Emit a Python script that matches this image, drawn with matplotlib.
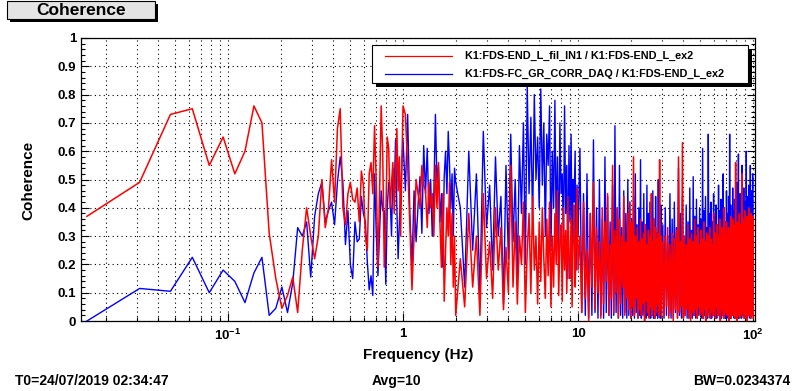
import numpy as np
import matplotlib.pyplot as plt
from matplotlib.patches import Rectangle
from matplotlib.lines import Line2D
from matplotlib.ticker import FixedLocator, LogLocator, MultipleLocator, NullFormatter

plt.rcParams['font.family'] = ['Liberation Sans', 'DejaVu Sans']
plt.rcParams['font.weight'] = 'bold'
plt.rcParams['mathtext.fontset'] = 'custom'
plt.rcParams['mathtext.rm'] = 'Liberation Sans:bold'
plt.rcParams['mathtext.it'] = 'Liberation Sans:bold'
plt.rcParams['mathtext.bf'] = 'Liberation Sans:bold'

# frequency bins (read at reduced resolution above 1 Hz)
f_low = np.arange(1, 65) / 64          # 1/64 .. 1 Hz
f_b = 1 + np.arange(1, 33) / 32        # 1 .. 2 Hz
f_c = 2 + np.arange(1, 65) / 8         # 2 .. 10 Hz
f_d = np.concatenate([10 + np.arange(1, 81) / 4, 30 + np.arange(1, 141) / 2])  # 10 .. 100 Hz

# K1:FDS-END_L_fil_IN1 / K1:FDS-END_L_ex2 (red)
red_low = [.37, .49, .73, .75, .55, .65, .52, .60, .76, .70,
           .31, .15, .045, .09, .155, .03, .25, .40, .30, .22,
           .30, .50, .33, .40, .57, .42, .68, .75, .40, .34,
           .45, .49, .43, .42, .47, .35, .53, .48, .30, .25,
           .52, .56, .45, .69, .49, .19, .45, .76, .59, .19,
           .35, .65, .61, .40, .49, .56, .38, .52, .68, .46,
           .58, .30, .55, .76]
red_b = [.73, .55, .34, .11, .30, .50, .45, .40, .55, .48,
         .46, .33, .49, .40, .45, .30, .55, .40, .56, .35,
         .19, .45, .07, .25, .40, .30, .49, .20, .38, .12,
         .30, .02]
red_c = [.22, .05, .38, .12, .30, .02, .45, .15,
         .28, .08, .40, .18, .33, .04, .26, .10,
         .55, .12, .35, .06, .30, .20, .42, .03,
         .25, .38, .10, .44, .18, .30, .06, .35,
         .14, .40, .22, .08, .36, .16, .42, .05,
         .30, .12, .38, .20, .46, .09, .28, .34,
         .07, .40, .18, .32, .10, .44, .22, .15,
         .36, .05, .30, .41, .12, .27, .47, .18]
red_d = [.30, .03, .42, .08, .25, .00, .38, .12, .49, .04,
         .33, .10, .28, .01, .40, .06, .35, .14, .45, .02,
         .27, .08, .55, .03, .32, .10, .40, .01, .36, .06,
         .30, .12, .44, .02, .28, .08, .38, .04, .42, .01,
         .35, .05, .58, .02, .30, .08, .33, .01, .28, .04,
         .36, .02, .29, .06, .31, .00, .34, .07, .27, .03,
         .32, .01, .30, .05, .45, .02, .28, .04, .36, .01,
         .33, .03, .29, .06, .31, .02, .57, .04, .30, .01,
         .28, .02, .30, .05, .33, .01, .27, .03, .31, .00,
         .29, .04, .32, .01, .58, .03, .28, .05, .63, .01,
         .30, .02, .27, .04, .34, .01, .29, .00, .31, .03,
         .28, .02, .36, .04, .30, .01, .33, .05, .27, .02,
         .32, .03, .29, .01, .35, .04, .28, .00, .31, .02,
         .30, .05, .33, .01, .29, .03, .27, .02, .38, .04,
         .31, .01, .28, .05, .34, .02, .30, .03, .36, .00,
         .29, .04, .33, .02, .30, .01, .40, .03, .32, .05,
         .35, .02, .30, .04, .33, .00, .31, .03, .37, .01,
         .29, .04, .36, .02, .34, .05, .30, .01, .56, .03,
         .33, .00, .35, .04, .31, .02, .38, .01, .34, .05,
         .32, .02, .52, .03, .36, .04, .30, .01, .39, .02,
         .35, .04, .33, .00, .37, .03, .31, .05, .40, .02,
         .36, .03, .34, .01, .38, .04, .35, .02, .37, .01]

# K1:FDS-FC_GR_CORR_DAQ / K1:FDS-END_L_ex2 (blue)
blue_low = [0.0, .115, .105, .225, .10, .18, .14, .065, .17, .225,
            .02, .045, .12, .03, .135, .33, .30, .35, .155, .37,
            .45, .49, .35, .39, .42, .34, .49, .58, .49, .27,
            .39, .20, .15, .35, .28, .29, .44, .38, .35, .21,
            .11, .16, .09, .52, .31, .16, .31, .46, .39, .39,
            .13, .40, .49, .44, .30, .54, .45, .64, .40, .22,
            .35, .46, .55, .64]
blue_b = [.46, .73, .38, .19, .46, .28, .41, .51, .31, .62,
          .45, .61, .38, .50, .30, .45, .73, .49, .55, .35,
          .45, .19, .51, .60, .45, .67, .55, .40, .52, .30,
          .54, .49]
blue_c = [.40, .12, .60, .25, .52, .10, .67, .33,
          .48, .18, .58, .30, .44, .06, .55, .22,
          .66, .28, .50, .15, .62, .38, .70, .20,
          .83, .45, .72, .35, .80, .50, .65, .40,
          .82, .48, .70, .30, .66, .55, .76, .25,
          .60, .40, .78, .32, .58, .20, .70, .45,
          .52, .28, .76, .38, .55, .15, .62, .35,
          .66, .25, .50, .42, .60, .18, .48, .30]
blue_d = [.61, .03, .45, .02, .52, .01, .38, .02, .64, .03,
          .40, .01, .50, .02, .36, .01, .58, .03, .44, .02,
          .35, .01, .48, .02, .69, .03, .40, .01, .55, .02,
          .33, .01, .46, .03, .38, .01, .50, .02, .42, .01,
          .36, .02, .44, .01, .52, .03, .34, .01, .40, .02,
          .57, .01, .35, .02, .45, .03, .30, .01, .48, .02,
          .38, .02, .42, .01, .33, .03, .46, .01, .36, .01,
          .44, .02, .31, .01, .50, .03, .37, .01, .41, .02,
          .34, .01, .40, .02, .30, .02, .45, .01, .36, .01,
          .42, .03, .33, .01, .54, .02, .38, .01, .44, .01,
          .30, .02, .41, .01, .35, .01, .47, .03, .32, .01,
          .51, .02, .37, .01, .43, .01, .34, .02, .40, .03,
          .36, .01, .61, .01, .39, .02, .44, .02, .33, .01,
          .66, .03, .38, .01, .42, .01, .35, .02, .45, .02,
          .37, .01, .41, .01, .34, .02, .48, .03, .39, .01,
          .43, .01, .36, .02, .52, .02, .40, .01, .35, .01,
          .46, .02, .38, .01, .44, .02, .66, .01, .41, .01,
          .35, .02, .47, .03, .39, .01, .43, .01, .37, .02,
          .49, .02, .41, .01, .59, .01, .36, .02, .45, .03,
          .40, .01, .55, .02, .38, .02, .47, .01, .42, .02,
          .36, .03, .60, .01, .44, .01, .39, .02, .48, .02,
          .41, .01, .55, .01, .46, .02, .38, .03, .52, .02]

freq = np.concatenate([f_low, f_b, f_c, f_d])
red = np.concatenate([red_low, red_b, red_c, red_d])
blue = np.concatenate([blue_low, blue_b, blue_c, blue_d])

legend_labels = ['K1:FDS-END_L_fil_IN1 / K1:FDS-END_L_ex2',
                 'K1:FDS-FC_GR_CORR_DAQ / K1:FDS-END_L_ex2']
W, H = 800, 391

fig = plt.figure(figsize=(W / 100, H / 100), dpi=100)
ax = fig.add_axes([81 / W, 70 / H, 674 / W, 283 / H])

ax.plot(freq, blue, color='#0000ff', lw=1.0, zorder=3)
ax.plot(freq, red, color='#ff0000', lw=1.1, zorder=4)

ax.set_xscale('log')
ax.set_xlim(0.01445, 102.6)
ax.set_ylim(0, 1)

ax.xaxis.set_major_locator(FixedLocator([0.1, 1, 10, 100]))
ax.set_xticklabels([r'$10^{-1}$', '1', '10', r'$10^{2}$'])
ax.xaxis.set_minor_locator(LogLocator(base=10, subs=np.arange(2, 10)))
ax.xaxis.set_minor_formatter(NullFormatter())
yt = np.round(np.arange(0, 1.01, 0.1), 1)
ax.set_yticks(yt, ['0' if v == 0 else '1' if v == 1 else f'{v:.1f}' for v in yt])
ax.yaxis.set_minor_locator(MultipleLocator(0.02))

ax.tick_params(which='both', direction='in', right=True, top=False, labelsize=9.5, width=0.8)
ax.tick_params(which='major', length=6)
ax.tick_params(which='minor', length=3)
ax.tick_params(axis='x', pad=5)
for lab in ax.get_xticklabels() + ax.get_yticklabels():
    lab.set_fontweight('bold')

ax.grid(which='both', axis='x', color='black', linestyle=(0, (1, 3)), lw=0.8)
ax.grid(which='major', axis='y', color='black', linestyle=(0, (1, 3)), lw=0.8)
for s in ax.spines.values():
    s.set_linewidth(0.9)

fig.text(418 / W, 1 - 355 / H, 'Frequency (Hz)', ha='center', va='center', fontsize=11, weight='bold')
fig.text(28 / W, 1 - 180 / H, 'Coherence', rotation=90, ha='center', va='center', fontsize=11, weight='bold')
fig.text(15 / W, 1 - 381 / H, 'T0=24/07/2019 02:34:47', ha='left', va='center', fontsize=10, weight='bold')
fig.text(396 / W, 1 - 381 / H, 'Avg=10', ha='center', va='center', fontsize=10, weight='bold')
fig.text(790 / W, 1 - 381 / H, 'BW=0.0234374', ha='right', va='center', fontsize=10, weight='bold')

# title box with shadow
fig.add_artist(Rectangle((10 / W, 1 - 22 / H), 148 / W, 18 / H, transform=fig.transFigure,
                         facecolor='black', edgecolor='none', zorder=5))
fig.add_artist(Rectangle((7 / W, 1 - 19 / H), 148 / W, 18 / H, transform=fig.transFigure,
                         facecolor='#e4e4e4', edgecolor='black', lw=0.8, zorder=6))
fig.text(81 / W, 1 - 10.5 / H, 'Coherence', ha='center', va='center', fontsize=12.5, weight='bold', zorder=7)

# legend box with shadow
fig.add_artist(Rectangle((376 / W, 1 - 87 / H), 376 / W, 38 / H, transform=fig.transFigure,
                         facecolor='black', edgecolor='none', zorder=5))
fig.add_artist(Rectangle((372 / W, 1 - 83 / H), 376 / W, 38 / H, transform=fig.transFigure,
                         facecolor='white', edgecolor='black', lw=0.8, zorder=6))
for i, (lab, col) in enumerate(zip(legend_labels, ['#ff0000', '#0000ff'])):
    yy = 1 - (56 + 18 * i) / H
    fig.add_artist(Line2D([385 / W, 452 / W], [yy, yy], transform=fig.transFigure, color=col, lw=0.9, zorder=7))
    fig.text(465 / W, yy, lab, ha='left', va='center', fontsize=7.8, weight='bold', zorder=7)

fig.savefig('out.png', dpi=100)
